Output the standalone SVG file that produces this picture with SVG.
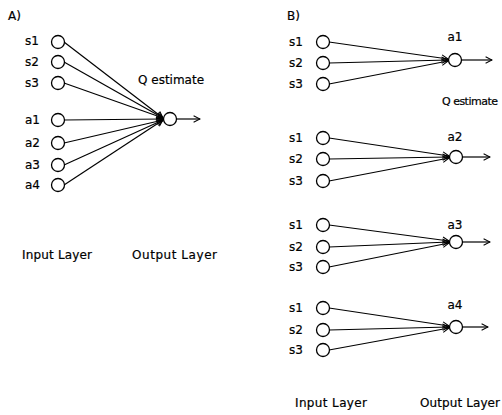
<svg xmlns="http://www.w3.org/2000/svg" width="502" height="415" viewBox="0 0 502 415">
  <style>
    .node { fill: #fff; stroke: #000; stroke-width: 1.3; }
    .edge { stroke: #000; stroke-width: 1.2; fill: none; marker-end: url(#head); }
    .lbl { font-family: "DejaVu Sans", sans-serif; font-size: 12px; fill: #000; stroke: #000; stroke-width: 0.2; }
    .mid { text-anchor: middle; }
  </style>
  <defs>
    <marker id="head" viewBox="0 0 10 10" refX="9" refY="5" markerWidth="8" markerHeight="8" markerUnits="userSpaceOnUse" orient="auto">
      <path d="M1,1 L9,5 L1,9" fill="none" stroke="#000" stroke-width="1.3"/>
    </marker>
  </defs>
  <rect width="502" height="415" fill="#fff"/>

  <!-- Panel A: single network, state and action inputs -->
  <text class="lbl" x="8" y="20">A)</text>

  <g id="connectors-a">
    <line class="edge" x1="64" y1="42" x2="163" y2="118"/>
    <line class="edge" x1="64" y1="62" x2="163" y2="118"/>
    <line class="edge" x1="64" y1="83" x2="163" y2="118"/>
    <line class="edge" x1="64" y1="120" x2="163" y2="119"/>
    <line class="edge" x1="64" y1="143" x2="163" y2="120"/>
    <line class="edge" x1="64" y1="165" x2="163" y2="120"/>
    <line class="edge" x1="64" y1="185" x2="163" y2="120"/>
    <line class="edge" x1="177" y1="119" x2="200" y2="119"/>
  </g>

  <g id="a-s1"><circle class="node" cx="58" cy="42" r="6.5"/><text class="lbl" x="25" y="45">s1</text></g>
  <g id="a-s2"><circle class="node" cx="58" cy="62" r="6.5"/><text class="lbl" x="25" y="66">s2</text></g>
  <g id="a-s3"><circle class="node" cx="58" cy="83" r="6.5"/><text class="lbl" x="25" y="87">s3</text></g>
  <g id="a-a1"><circle class="node" cx="58" cy="120" r="6.5"/><text class="lbl" x="25" y="124">a1</text></g>
  <g id="a-a2"><circle class="node" cx="58" cy="143" r="6.5"/><text class="lbl" x="25" y="147">a2</text></g>
  <g id="a-a3"><circle class="node" cx="58" cy="165" r="6.5"/><text class="lbl" x="25" y="169">a3</text></g>
  <g id="a-a4"><circle class="node" cx="58" cy="185" r="6.5"/><text class="lbl" x="25" y="189">a4</text></g>
  <g id="a-out"><circle class="node" cx="170" cy="119" r="6.5"/><text class="lbl" x="138" y="84">Q estimate</text></g>

  <text class="lbl" x="22" y="259" textLength="70">Input Layer</text>
  <text class="lbl" x="132" y="259" textLength="85">Output Layer</text>

  <!-- Panel B: one network per action, state inputs only -->
  <text class="lbl" x="287" y="20">B)</text>

  <g id="connectors-b">
    <line class="edge" x1="329" y1="42" x2="448" y2="59"/>
    <line class="edge" x1="329" y1="63" x2="448" y2="60"/>
    <line class="edge" x1="329" y1="84" x2="448" y2="61"/>
    <line class="edge" x1="462" y1="60" x2="492" y2="60"/>

    <line class="edge" x1="329" y1="138" x2="449" y2="156"/>
    <line class="edge" x1="329" y1="159" x2="449" y2="157"/>
    <line class="edge" x1="329" y1="181" x2="449" y2="158"/>
    <line class="edge" x1="463" y1="157" x2="490" y2="157"/>

    <line class="edge" x1="329" y1="225" x2="449" y2="241"/>
    <line class="edge" x1="329" y1="247" x2="449" y2="242"/>
    <line class="edge" x1="329" y1="267" x2="449" y2="243"/>
    <line class="edge" x1="463" y1="242" x2="490" y2="242"/>

    <line class="edge" x1="329" y1="308" x2="449" y2="326"/>
    <line class="edge" x1="329" y1="330" x2="449" y2="327"/>
    <line class="edge" x1="329" y1="350" x2="449" y2="328"/>
    <line class="edge" x1="463" y1="327" x2="488" y2="327"/>
  </g>

  <g id="b1-s1"><circle class="node" cx="323" cy="42" r="6.5"/><text class="lbl" x="289" y="46">s1</text></g>
  <g id="b1-s2"><circle class="node" cx="323" cy="63" r="6.5"/><text class="lbl" x="289" y="67">s2</text></g>
  <g id="b1-s3"><circle class="node" cx="323" cy="84" r="6.5"/><text class="lbl" x="289" y="88">s3</text></g>
  <g id="b1-out"><circle class="node" cx="455" cy="60" r="6.5"/><text class="lbl mid" x="455" y="41">a1</text><text class="lbl" x="442" y="105" textLength="56" style="font-size:11px">Q estimate</text></g>

  <g id="b2-s1"><circle class="node" cx="323" cy="138" r="6.5"/><text class="lbl" x="289" y="142">s1</text></g>
  <g id="b2-s2"><circle class="node" cx="323" cy="159" r="6.5"/><text class="lbl" x="289" y="163">s2</text></g>
  <g id="b2-s3"><circle class="node" cx="323" cy="181" r="6.5"/><text class="lbl" x="289" y="185">s3</text></g>
  <g id="b2-out"><circle class="node" cx="456" cy="157" r="6.5"/><text class="lbl mid" x="455" y="141">a2</text></g>

  <g id="b3-s1"><circle class="node" cx="323" cy="225" r="6.5"/><text class="lbl" x="289" y="229">s1</text></g>
  <g id="b3-s2"><circle class="node" cx="323" cy="247" r="6.5"/><text class="lbl" x="289" y="251">s2</text></g>
  <g id="b3-s3"><circle class="node" cx="323" cy="267" r="6.5"/><text class="lbl" x="289" y="271">s3</text></g>
  <g id="b3-out"><circle class="node" cx="456" cy="242" r="6.5"/><text class="lbl mid" x="455" y="229">a3</text></g>

  <g id="b4-s1"><circle class="node" cx="323" cy="308" r="6.5"/><text class="lbl" x="289" y="312">s1</text></g>
  <g id="b4-s2"><circle class="node" cx="323" cy="330" r="6.5"/><text class="lbl" x="289" y="334">s2</text></g>
  <g id="b4-s3"><circle class="node" cx="323" cy="350" r="6.5"/><text class="lbl" x="289" y="354">s3</text></g>
  <g id="b4-out"><circle class="node" cx="456" cy="327" r="6.5"/><text class="lbl mid" x="455" y="309">a4</text></g>

  <text class="lbl" x="295" y="407" textLength="72">Input Layer</text>
  <text class="lbl" x="420" y="407" textLength="80">Output Layer</text>
</svg>
